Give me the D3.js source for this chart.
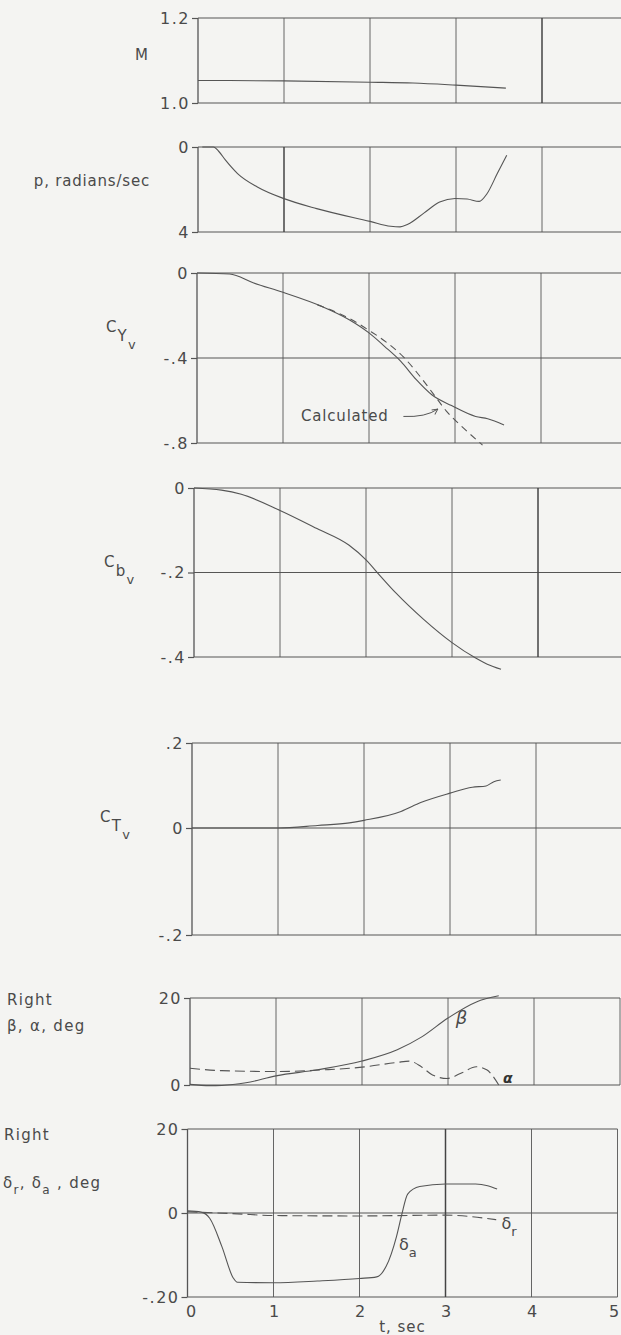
<!DOCTYPE html>
<html>
<head>
<meta charset="utf-8">
<script src="https://cdn.jsdelivr.net/npm/d3@7"></script>
<style>
  body { margin: 0; background: #f4f4f2; }
  svg { display: block; font-family: "DejaVu Sans", sans-serif; }
</style>
</head>
<body>
<svg id="chart" width="621" height="1335"></svg>
<script>
// time axis, sec
const timeTicks = [0, 1, 2, 3, 4, 5];
const timeTickLabels = ["0", "1", "2", "3", "4", "5"];

// Mach number
const machTime = [0, 1, 2, 2.5, 3, 3.58];
const machValue = [1.053, 1.052, 1.049, 1.047, 1.042, 1.035];

// rolling velocity p, radians/sec (0 at top, 4 at bottom)
const rollTime = [0.05, 0.18, 0.24, 0.32, 0.46, 0.69, 1.0, 1.38, 2.0, 2.24, 2.35, 2.44, 2.63, 2.81, 2.99, 3.13, 3.27, 3.36, 3.48, 3.59];
const rollValue = [0, 0, 0.2, 0.62, 1.25, 1.88, 2.43, 2.9, 3.5, 3.73, 3.76, 3.64, 3.1, 2.59, 2.42, 2.45, 2.56, 2.2, 1.25, 0.39];

// side force coefficient, measured and calculated
const cyTime = [0, 0.38, 0.66, 1, 1.45, 1.77, 2, 2.18, 2.37, 2.55, 2.73, 2.96, 3.24, 3.38, 3.57];
const cyValue = [0, -0.005, -0.047, -0.091, -0.157, -0.22, -0.282, -0.345, -0.416, -0.502, -0.573, -0.624, -0.675, -0.686, -0.715];
const cyCalcTime = [1.4, 1.8, 2.0, 2.2, 2.4, 2.6, 2.75, 2.9, 3.1, 3.32];
const cyCalcValue = [-0.15, -0.22, -0.27, -0.325, -0.395, -0.49, -0.57, -0.65, -0.73, -0.81];

// bending moment coefficient
const cbTime = [0, 0.32, 0.55, 1, 1.43, 1.8, 2, 2.17, 2.35, 2.67, 3, 3.27, 3.41, 3.57];
const cbValue = [0, -0.005, -0.015, -0.053, -0.096, -0.135, -0.17, -0.209, -0.249, -0.311, -0.366, -0.402, -0.417, -0.429];

// torsion coefficient
const ctTime = [0, 1, 1.46, 1.83, 2, 2.43, 2.66, 3, 3.26, 3.42, 3.51, 3.59];
const ctValue = [0, 0, 0.006, 0.012, 0.018, 0.039, 0.06, 0.082, 0.096, 0.099, 0.109, 0.113];

// sideslip and angle of attack, deg
const betaTime = [0, 0.23, 0.37, 0.65, 1, 1.48, 2, 2.41, 2.69, 3, 3.33, 3.59];
const betaValue = [0.15, -0.15, -0.1, 0.5, 2.1, 3.5, 5.5, 8.1, 11, 15.4, 19.1, 20.5];
const alphaTime = [0, 0.37, 1.02, 1.57, 2, 2.41, 2.55, 2.69, 2.82, 2.99, 3.15, 3.33, 3.45, 3.59];
const alphaValue = [3.85, 3.3, 3.1, 3.5, 4.1, 5.2, 5.5, 4.2, 2.3, 1.5, 2.7, 4.2, 3.5, 0];

// rudder and aileron deflection, deg
const aileronTime = [0, 0.16, 0.26, 0.4, 0.53, 0.58, 1, 1.51, 2, 2.2, 2.31, 2.43, 2.49, 2.56, 2.7, 3, 3.35, 3.49, 3.6];
const aileronValue = [0.5, 0.2, -1.3, -8, -15.4, -16.5, -16.6, -16.2, -15.6, -15.2, -12.7, -5.6, -0.5, 4.5, 6.3, 6.9, 6.9, 6.5, 5.7];
const rudderTime = [0, 0.58, 1, 2, 3, 3.59];
const rudderValue = [0.3, -0.2, -0.6, -0.7, -0.5, -1.6];

// y tick values / labels per panel
const machTicks = [1.2, 1.0], machTickLabels = ["1.2", "1.0"];
const rollTicks = [0, 4], rollTickLabels = ["0", "4"];
const cyTicks = [0, -0.4, -0.8], cyTickLabels = ["0", "-.4", "-.8"];
const cbTicks = [0, -0.2, -0.4], cbTickLabels = ["0", "-.2", "-.4"];
const ctTicks = [0.2, 0, -0.2], ctTickLabels = [".2", "0", "-.2"];
const angleTicks = [20, 0], angleTickLabels = ["20", "0"];
const deflTicks = [20, 0, -20], deflTickLabels = ["20", "0", "-.20"];

const zip = (t, v) => t.map((d, i) => [d, v[i]]);

const svg = d3.select("#chart");
const ink = "#555";
const secWidth = 86;

// layout of the stacked panels (scan drifts a little to the left going down)
const panels = [
  { left: 198, yDomain: [1.0, 1.2], yRange: [103, 18], ticks: machTicks, labels: machTickLabels, heavy: 4,
    series: [{ data: zip(machTime, machValue) }] },
  { left: 198, yDomain: [0, 4], yRange: [147, 232], ticks: rollTicks, labels: rollTickLabels, heavy: 1,
    series: [{ data: zip(rollTime, rollValue) }] },
  { left: 197, yDomain: [-0.8, 0], yRange: [443, 273], ticks: cyTicks, labels: cyTickLabels,
    series: [{ data: zip(cyTime, cyValue) }, { data: zip(cyCalcTime, cyCalcValue), dash: "7,5" }] },
  { left: 194, yDomain: [-0.4, 0], yRange: [657, 488], ticks: cbTicks, labels: cbTickLabels, heavy: 4,
    series: [{ data: zip(cbTime, cbValue) }] },
  { left: 192, yDomain: [-0.2, 0, 0.2], yRange: [935, 828, 743], ticks: ctTicks, labels: ctTickLabels,
    series: [{ data: zip(ctTime, ctValue) }] },
  { left: 190, yDomain: [0, 20], yRange: [1085, 998], ticks: angleTicks, labels: angleTickLabels,
    series: [{ data: zip(betaTime, betaValue) }, { data: zip(alphaTime, alphaValue), dash: "10,5" }] },
  { left: 187.5, yDomain: [-20, 0, 20], yRange: [1297, 1213, 1129], ticks: deflTicks, labels: deflTickLabels, heavy: 3,
    series: [{ data: zip(aileronTime, aileronValue) }, { data: zip(rudderTime, rudderValue), dash: "10,5" }] }
];

panels.forEach((p, idx) => {
  const x = d3.scaleLinear().domain([0, 5]).range([p.left, p.left + 5 * secWidth]);
  const y = d3.scaleLinear().domain(p.yDomain).range(p.yRange);
  p.x = x; p.y = y;
  const g = svg.append("g");
  const top = d3.min(p.yRange), bottom = d3.max(p.yRange);

  // horizontal lines at each tick (frame top/bottom included)
  g.selectAll(".hgrid").data(p.ticks).join("line")
    .attr("x1", x(0)).attr("x2", x(5))
    .attr("y1", d => y(d)).attr("y2", d => y(d))
    .attr("stroke", ink).attr("stroke-width", 1.2);

  // vertical lines every second
  g.selectAll(".vgrid").data(timeTicks).join("line")
    .attr("x1", d => x(d)).attr("x2", d => x(d))
    .attr("y1", top).attr("y2", bottom)
    .attr("stroke", d => d === p.heavy ? "#444" : ink)
    .attr("stroke-width", d => d === p.heavy ? 1.5 : (d === 0 ? 1.3 : 0.9));

  // left axis: short ticks and labels
  const axis = g.append("g")
    .attr("transform", `translate(${x(0)},0)`)
    .call(d3.axisLeft(y).tickValues(p.ticks).tickSize(6).tickPadding(2)
      .tickFormat((d, i) => p.labels[i]));
  axis.select(".domain").remove();
  axis.selectAll("line").attr("stroke", ink).attr("stroke-width", 1.2);
  axis.selectAll("text").attr("fill", "#4a4a4a").attr("font-size", 16)
    .attr("letter-spacing", 1.5).attr("font-family", "DejaVu Sans");

  // curves
  const line = d3.line().x(d => x(d[0])).y(d => y(d[1])).curve(d3.curveMonotoneX);
  p.series.forEach(s => {
    g.append("path").datum(s.data)
      .attr("fill", "none").attr("stroke", "#555").attr("stroke-width", 1.1)
      .attr("stroke-dasharray", s.dash || null)
      .attr("d", line);
  });

  // bottom time axis on the last panel
  if (idx === panels.length - 1) {
    const xa = g.append("g").attr("transform", `translate(0,${bottom})`)
      .call(d3.axisBottom(x).tickValues(timeTicks).tickSize(0).tickPadding(9)
        .tickFormat((d, i) => timeTickLabels[i]));
    xa.select(".domain").remove();
    xa.selectAll("text").attr("fill", "#4a4a4a").attr("font-size", 16).attr("font-family", "DejaVu Sans")
      .attr("dx", d => d === 5 ? -4 : (d === 0 ? 3 : 0));
    g.append("text").attr("x", x(2.5)).attr("y", 1332).attr("text-anchor", "middle")
      .attr("fill", "#4a4a4a").attr("font-size", 15).attr("letter-spacing", 1).text("t, sec");
  }
});

// left-hand quantity labels
const lab = svg.append("g").attr("fill", "#4a4a4a").attr("font-size", 15).attr("letter-spacing", 1.3);
lab.append("text").attr("x", 135).attr("y", 60).text("M");
lab.append("text").attr("x", 150).attr("y", 186).attr("text-anchor", "end").attr("letter-spacing", 0.8).text("p, radians/sec");

function coefLabel(x0, y0, sub) {
  const t = lab.append("text").attr("x", x0).attr("y", y0);
  t.append("tspan").text("C");
  t.append("tspan").attr("dy", 9).attr("font-size", 15).text(sub);
  t.append("tspan").attr("dy", 8).attr("font-size", 13).text("v");
}
coefLabel(106, 332, "Y");
coefLabel(104, 567, "b");
coefLabel(100, 822, "T");

lab.append("text").attr("x", 7).attr("y", 1005).text("Right");
lab.append("text").attr("x", 7).attr("y", 1031).text("β, α, deg");
lab.append("text").attr("x", 4).attr("y", 1140).text("Right");
const dl = lab.append("text").attr("x", 3).attr("y", 1188);
dl.append("tspan").text("δ");
dl.append("tspan").attr("dy", 6).attr("font-size", 12).text("r");
dl.append("tspan").attr("dy", -6).text(", δ");
dl.append("tspan").attr("dy", 6).attr("font-size", 12).text("a");
dl.append("tspan").attr("dy", -6).text(" , deg");

// curve annotations, placed in data coordinates
const cy = panels[2], ang = panels[5], defl = panels[6];
svg.append("text").attr("x", cy.x(1.21)).attr("y", cy.y(-0.695))
  .attr("fill", "#4a4a4a").attr("font-size", 15).attr("letter-spacing", 0.8).text("Calculated");

svg.append("defs").append("marker").attr("id", "arr")
  .attr("viewBox", "0 0 10 10").attr("refX", 9).attr("refY", 5)
  .attr("markerWidth", 7).attr("markerHeight", 7).attr("orient", "auto")
  .append("path").attr("d", "M1,1 L9,5 L1,9").attr("fill", "none").attr("stroke", ink).attr("stroke-width", 1.3);
const a0 = [cy.x(2.4), cy.y(-0.675)], a1 = [cy.x(2.8), cy.y(-0.64)];
svg.append("path")
  .attr("d", `M${a0[0]},${a0[1]} Q${a1[0] - 12},${a0[1] + 1} ${a1[0]},${a1[1]}`)
  .attr("fill", "none").attr("stroke", ink).attr("stroke-width", 1).attr("marker-end", "url(#arr)");

svg.append("text").attr("x", ang.x(3.09)).attr("y", ang.y(14))
  .attr("fill", "#4a4a4a").attr("font-size", 18).attr("font-style", "italic").text("β");
svg.append("text").attr("x", ang.x(3.64)).attr("y", ang.y(0.5))
  .attr("fill", "#333").attr("font-size", 14).attr("font-weight", "bold").attr("font-style", "italic").text("α");

const da = svg.append("text").attr("x", defl.x(2.46)).attr("y", defl.y(-8.8))
  .attr("fill", "#4a4a4a").attr("font-size", 16);
da.append("tspan").text("δ");
da.append("tspan").attr("dy", 7).attr("font-size", 13).text("a");
const dr = svg.append("text").attr("x", defl.x(3.65)).attr("y", defl.y(-3.8))
  .attr("fill", "#4a4a4a").attr("font-size", 16);
dr.append("tspan").text("δ");
dr.append("tspan").attr("dy", 7).attr("font-size", 13).text("r");
</script>
</body>
</html>
